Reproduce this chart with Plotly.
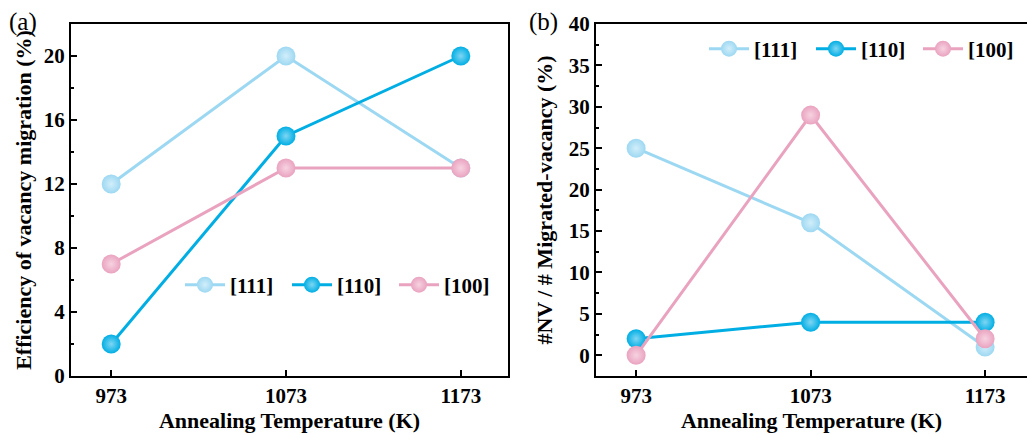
import plotly.graph_objects as go

temps = [973, 1073, 1173]
series_names = ["[111]", "[110]", "[100]"]
colors = ["#9DD8F2", "#00AEE4", "#EAA3BF"]
grad_colors = ["#D2EEFA", "#7FD6F3", "#F6D3E1"]

eff_111 = [12, 20, 13]
eff_110 = [2, 15, 20]
eff_100 = [7, 13, 13]

nv_111 = [25, 16, 1]
nv_110 = [2, 4, 4]
nv_100 = [0, 29, 2]

left_vals = [eff_111, eff_110, eff_100]
right_vals = [nv_111, nv_110, nv_100]

FONT = "Liberation Serif"

fig = go.Figure()

for i, name in enumerate(series_names):
    fig.add_trace(go.Scatter(
        x=temps, y=left_vals[i], name=name, mode="lines+markers",
        line=dict(color=colors[i], width=3),
        marker=dict(size=19, color=colors[i],
                    gradient=dict(type="radial", color=grad_colors[i])),
        xaxis="x", yaxis="y", legend="legend", showlegend=True,
    ))
for i, name in enumerate(series_names):
    fig.add_trace(go.Scatter(
        x=temps, y=right_vals[i], name=name, mode="lines+markers",
        line=dict(color=colors[i], width=3),
        marker=dict(size=19, color=colors[i],
                    gradient=dict(type="radial", color=grad_colors[i])),
        xaxis="x2", yaxis="y2", legend="legend2", showlegend=True,
    ))

W, H = 1027, 435
ydom = [1 - 376 / H, 1 - 24 / H]

axis_common = dict(
    showline=True, linewidth=2, linecolor="black", mirror=True,
    ticks="inside", ticklen=6, tickwidth=1.5, tickcolor="black",
    showgrid=False, zeroline=False,
    tickfont=dict(family=FONT, size=21, color="black", weight="bold"),
)
title_font = dict(family=FONT, size=22, color="black", weight="bold")
legend_font = dict(family=FONT, size=21, color="black", weight="bold")

fig.update_layout(
    width=W, height=H,
    margin=dict(l=0, r=0, t=0, b=0, autoexpand=False),
    paper_bgcolor="white", plot_bgcolor="white",
    xaxis=dict(domain=[71 / W, 508 / W], range=[950, 1200],
               tickvals=temps, anchor="y", automargin=False,
               title=dict(text="Annealing Temperature (K)", font=title_font, standoff=2),
               **axis_common),
    yaxis=dict(domain=ydom, range=[0, 22], tickvals=[0, 4, 8, 12, 16, 20],
               anchor="x", automargin=False,
               minor=dict(tickvals=[2, 6, 10, 14, 18], ticks="inside", ticklen=3,
                          tickwidth=1.5, tickcolor="black"),
               title=dict(text="Efficiency of vacancy migration (%)", font=title_font, standoff=6),
               **axis_common),
    xaxis2=dict(domain=[596 / W, 1.0], range=[950, 1197],
                tickvals=temps, anchor="y2", automargin=False,
                title=dict(text="Annealing Temperature (K)", font=title_font, standoff=2),
                **axis_common),
    yaxis2=dict(domain=ydom, range=[-2.5, 40], tickvals=[0, 5, 10, 15, 20, 25, 30, 35, 40],
                anchor="x2", automargin=False,
                minor=dict(tickvals=[2.5, 7.5, 12.5, 17.5, 22.5, 27.5, 32.5, 37.5],
                           ticks="inside", ticklen=3, tickwidth=1.5, tickcolor="black"),
                title=dict(text="#NV / # Migrated-vacancy (%)", font=title_font, standoff=10),
                **axis_common),
    legend=dict(orientation="h", x=180 / W, y=1 - 285 / H, xanchor="left", yanchor="middle",
                bgcolor="rgba(0,0,0,0)", font=legend_font,
                entrywidth=52, entrywidthmode="pixels", itemwidth=40),
    legend2=dict(orientation="h", x=704 / W, y=1 - 49 / H, xanchor="left", yanchor="middle",
                 bgcolor="rgba(0,0,0,0)", font=legend_font,
                 entrywidth=52, entrywidthmode="pixels", itemwidth=40),
    annotations=[
        dict(text="(a)", x=7 / W, y=1 - 22 / H, xref="paper", yref="paper",
             xanchor="left", yanchor="middle", showarrow=False,
             font=dict(family=FONT, size=25, color="black")),
        dict(text="(b)", x=527 / W, y=1 - 22 / H, xref="paper", yref="paper",
             xanchor="left", yanchor="middle", showarrow=False,
             font=dict(family=FONT, size=25, color="black")),
    ],
)

fig.write_html("out.html", config={"displayModeBar": False},
               post_script="document.body.style.margin='0';")
